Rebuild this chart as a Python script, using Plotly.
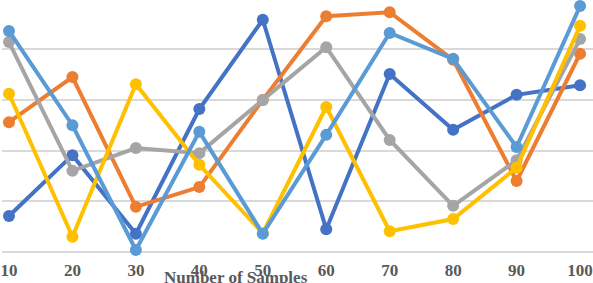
import plotly.graph_objects as go

categories = [10, 20, 30, 40, 50, 60, 70, 80, 90, 100]
tick_labels = ["10", "20", "30", "40", "50", "60", "70", "80", "90", "100"]
series_1 = [7.1, 19.1, 3.6, 28.2, 45.8, 4.5, 35.1, 24.1, 31.0, 32.9]
series_2 = [25.6, 34.5, 8.9, 12.8, 30.0, 46.5, 47.3, 37.9, 14.0, 39.1]
series_3 = [41.4, 16.0, 20.5, 19.5, 30.0, 40.4, 22.1, 9.1, 18.1, 42.0]
series_4 = [31.2, 3.0, 33.1, 17.2, 3.7, 28.6, 4.1, 6.5, 16.6, 44.6]
series_5 = [43.6, 25.0, 0.4, 23.7, 3.6, 23.1, 43.2, 38.1, 20.7, 48.5]
names = ["Series 1", "Series 2", "Series 3", "Series 4", "Series 5"]
colors = ["#4472C4", "#ED7D31", "#A5A5A5", "#FFC000", "#5B9BD5"]

fig = go.Figure()
for name, vals, col in zip(names, [series_1, series_2, series_3, series_4, series_5], colors):
    fig.add_trace(go.Scatter(
        x=categories, y=vals, name=name, mode="lines+markers",
        line=dict(color=col, width=4),
        marker=dict(color=col, size=12),
        cliponaxis=False,
    ))

fig.update_layout(
    width=593, height=283,
    margin=dict(l=0, r=0, t=0, b=31),
    paper_bgcolor="white", plot_bgcolor="white",
    showlegend=False,
    xaxis=dict(
        range=[8.9, 102.04], tickvals=categories, ticktext=tick_labels,
        showgrid=False, zeroline=False, showline=False, ticks="",
        ticklabeloverflow="allow", ticklabelstandoff=6,
        tickfont=dict(family="Liberation Serif", size=17, color="#595959", weight="bold"),
    ),
    yaxis=dict(
        range=[0, 49.7], dtick=10, showticklabels=False,
        showgrid=True, gridcolor="#D9D9D9", gridwidth=1.5,
        zeroline=True, zerolinecolor="#D9D9D9", zerolinewidth=1.5,
    ),
    annotations=[dict(
        text="<b>Number of Samples</b>", xref="paper", yref="paper",
        x=235 / 593, y=(252 - 277) / 252, xanchor="center", yanchor="middle",
        showarrow=False,
        font=dict(family="Liberation Serif", size=17, color="#595959"),
    )],
)

fig.write_html(
    "out.html",
    config={"displayModeBar": False},
    post_script="document.body.style.margin='0';document.body.style.overflow='hidden';",
)
